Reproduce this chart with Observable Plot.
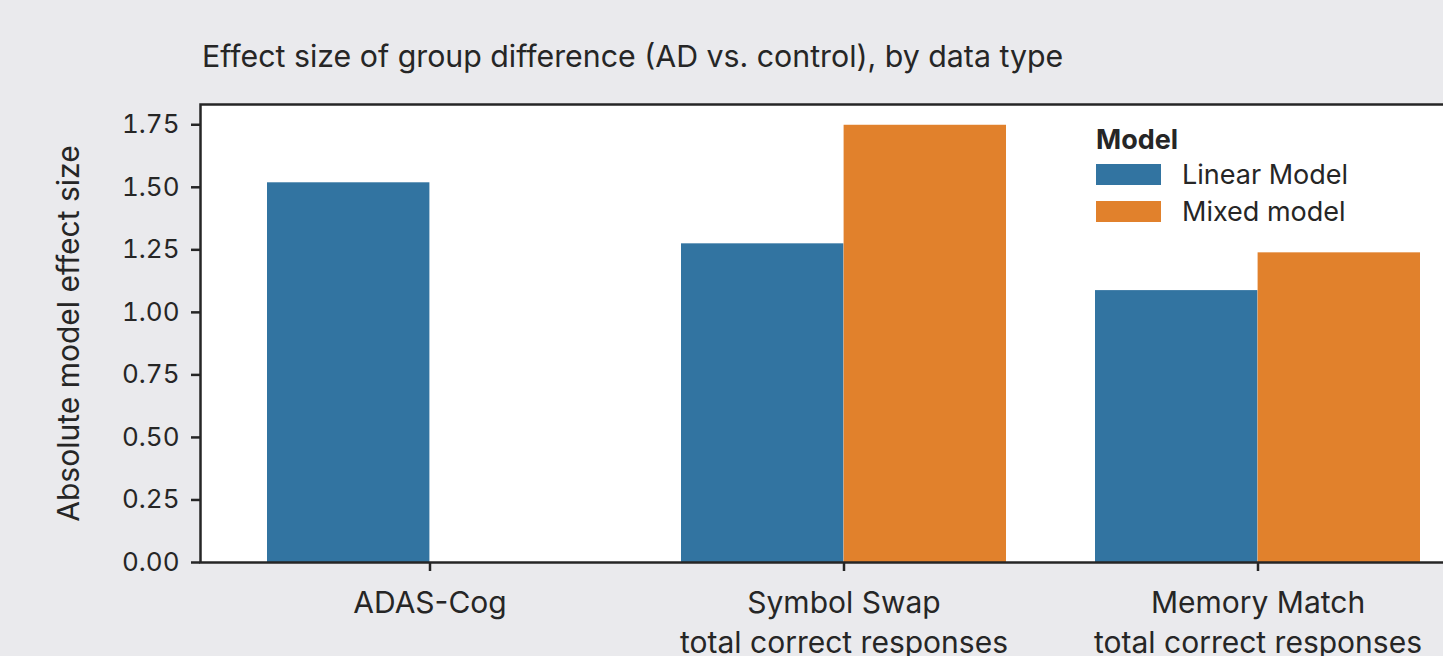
<!DOCTYPE html>
<html>
<head>
<meta charset="utf-8">
<script src="https://cdn.jsdelivr.net/npm/d3@7"></script>
<script src="https://cdn.jsdelivr.net/npm/@observablehq/plot@0.6"></script>
<style>
  html, body { margin: 0; padding: 0; background: #eaeaed; overflow: hidden; width: 1443px; height: 656px; }
  #wrap { position: relative; width: 1443px; height: 656px; overflow: hidden; font-family: Inter, sans-serif; color: #262626; }
  #title { position: absolute; left: 202px; top: 39px; font-size: 30.3px; line-height: 34px; white-space: nowrap; }
  #chart { position: absolute; left: 0; top: 0; width: 1486px; }
  #chart svg { max-width: none !important; }
  #ltitle { position: absolute; left: 1096px; top: 124px; font-size: 27px; line-height: 32px; font-weight: 700; }
  #legend { position: absolute; left: 1096px; top: 164px; }
  #legend .lg-swatches { font-family: Inter, sans-serif; font-size: 27px; margin: 0; color: #262626; }
  #legend .lg-swatch { padding-bottom: 15.7px; }
  #legend .lg-swatch > svg { margin-right: 21px; }
  #legend .lg-swatch-label { line-height: 21px; overflow: visible; }
</style>
</head>
<body>
<div id="wrap">
  <div id="title"></div>
  <div id="chart"></div>
  <div id="ltitle"></div>
  <div id="legend"></div>
</div>
<script>
const titleText = "Effect size of group difference (AD vs. control), by data type";
const yLabel = "Absolute model effect size";
const legendTitle = "Model";
const categories = ["ADAS-Cog", "Symbol Swap", "Memory Match"];
const categoryLabels = ["ADAS-Cog", "Symbol Swap\ntotal correct responses", "Memory Match\ntotal correct responses"];
const models = ["Linear Model", "Mixed model"];
const linearValues = [1.518, 1.274, 1.087];
const mixedValues = [null, 1.748, 1.238];
const colors = ["#3274a1", "#e1812c"];
const yTicks = [0, 0.25, 0.5, 0.75, 1.0, 1.25, 1.5, 1.75];

const rows = [];
categories.forEach((c, i) => {
  if (linearValues[i] != null) rows.push({category: c, model: models[0], value: linearValues[i]});
  if (mixedValues[i] != null) rows.push({category: c, model: models[1], value: mixedValues[i]});
});

document.getElementById("title").textContent = titleText;
document.getElementById("ltitle").textContent = legendTitle;

const ink = "#262626";
const chart = Plot.plot({
  width: 1486,
  height: 662,
  marginLeft: 200,
  marginRight: 0,
  marginTop: 104,
  marginBottom: 100,
  style: {background: "transparent", fontFamily: "Inter, sans-serif", fontSize: "26px", color: ink, overflow: "visible", maxWidth: "none"},
  x: {domain: categories, paddingInner: 0.216, paddingOuter: 0.158},
  y: {domain: [0, 1.831]},
  color: {domain: models, range: colors},
  marks: [
    Plot.frame({fill: "white", stroke: null}),
    Plot.barY(rows.filter(d => d.model === models[0]), {x: "category", y: "value", fill: "model", insetRight: 162.6}),
    Plot.barY(rows.filter(d => d.model === models[1]), {x: "category", y: "value", fill: "model", insetLeft: 162.6}),
    Plot.axisY({ticks: yTicks, tickFormat: d3.format(".2f"), tickSize: 9, tickPadding: 12, strokeWidth: 2.5, stroke: ink,
      fontSize: 26, label: null}),
    Plot.axisY({ticks: [], tickSize: 0, label: yLabel, labelAnchor: "center", labelArrow: "none", labelOffset: 143, fontSize: 30}),
    Plot.axisX({tickFormat: d => categoryLabels[categories.indexOf(d)], tickSize: 9, tickPadding: 13.5, strokeWidth: 2.5, stroke: ink,
      fontSize: 30, lineHeight: 1.33, label: null}),
    Plot.frame({stroke: ink, strokeWidth: 2.5})
  ]
});
document.getElementById("chart").appendChild(chart);

const legend = Plot.legend({
  color: {domain: models, range: colors},
  legend: "swatches",
  columns: 1,
  swatchWidth: 65,
  swatchHeight: 21,
  className: "lg"
});
document.getElementById("legend").appendChild(legend);
</script>
</body>
</html>
